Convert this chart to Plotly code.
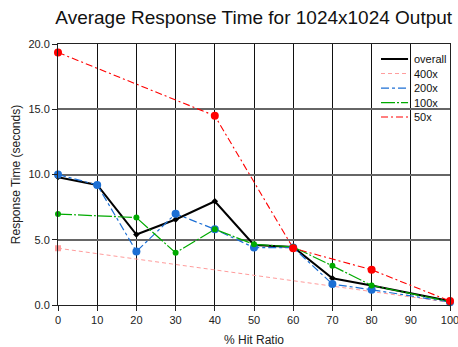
import plotly.graph_objects as go

title = "Average Response Time for 1024x1024 Output"
x_label = "% Hit Ratio"
y_label = "Response Time (seconds)"

overall_x = [0, 10, 20, 30, 40, 50, 60, 70, 80, 100]
overall_y = [9.8, 9.2, 5.4, 6.55, 7.95, 4.6, 4.45, 2.05, 1.5, 0.3]

x400 = [0, 100]
y400 = [4.35, 0.2]

x200 = [0, 10, 20, 30, 40, 50, 60, 70, 80, 100]
y200 = [10.0, 9.2, 4.1, 7.0, 5.8, 4.4, 4.4, 1.6, 1.17, 0.22]

x100 = [0, 20, 30, 40, 50, 60, 70, 80, 100]
y100 = [6.97, 6.7, 4.0, 5.8, 4.65, 4.45, 3.0, 1.5, 0.25]

x50 = [0, 40, 60, 80, 100]
y50 = [19.35, 14.5, 4.35, 2.7, 0.3]

series = [
    ("overall", overall_x, overall_y, "black", 2, "solid", 5, "diamond"),
    ("400x", x400, y400, "#ff9c9c", 1, "4px,3px", 6, "square"),
    ("200x", x200, y200, "#1c6fd4", 1.2, "8px,3px,3px,3px", 8, "circle"),
    ("100x", x100, y100, "#00aa00", 1.2, "14px,2px,2px,2px", 6, "circle"),
    ("50x", x50, y50, "#ff0000", 1.1, "7px,3px,2px,3px", 8, "circle"),
]

fig = go.Figure()
for name, xs, ys, color, w, dash, msize, sym in series:
    fig.add_trace(go.Scatter(x=xs, y=ys, name=name, mode="lines", showlegend=False,
                             line=dict(color=color, width=w, dash=dash), cliponaxis=False))
for name, xs, ys, color, w, dash, msize, sym in series:
    fig.add_trace(go.Scatter(x=xs, y=ys, name=name, mode="markers", showlegend=False,
                             marker=dict(color=color, size=msize, symbol=sym), cliponaxis=False))

# legend drawn in plot-domain (paper) coordinates
leg_x0, leg_x1, leg_tx = 0.824, 0.893, 0.903
leg_y0, leg_dy = 0.9425, 0.0556
for i, (name, xs, ys, color, w, dash, msize, sym) in enumerate(series):
    yy = leg_y0 - i * leg_dy
    fig.add_shape(type="line", xref="paper", yref="paper", x0=leg_x0, x1=leg_x1, y0=yy, y1=yy,
                  line=dict(color=color, width=w, dash=dash))
    fig.add_annotation(xref="paper", yref="paper", x=leg_tx, y=yy, text=name, showarrow=False,
                       xanchor="left", yanchor="middle", font=dict(size=11, color="#111"))

fig.update_layout(
    width=458, height=347,
    margin=dict(l=58, r=8, t=44, b=42),
    paper_bgcolor="white", plot_bgcolor="white",
    font=dict(family="Liberation Sans, Arial, sans-serif", size=11, color="#222"),
    title=dict(text=title, x=0.554, xanchor="center", y=0.951, yanchor="middle",
               font=dict(size=19, color="#111")),
    showlegend=False,
)
fig.update_xaxes(range=[0, 100], tickmode="array", tickvals=list(range(0, 101, 10)),
                 ticks="outside", ticklen=5, tickcolor="#222", showgrid=True, gridcolor="#111",
                 gridwidth=1, showline=True, linecolor="#222", mirror=True, zeroline=False,
                 automargin=False, ticklabeloverflow="allow",
                 title=dict(text=x_label, font=dict(size=12), standoff=12))
fig.update_yaxes(range=[0, 20], tickmode="array", tickvals=[0, 5, 10, 15, 20], tickformat=".1f",
                 ticks="outside", ticklen=5, tickcolor="#222", showgrid=True, gridcolor="#666",
                 gridwidth=1.5, showline=True, linecolor="#222", mirror=True, zeroline=False,
                 automargin=False, ticklabeloverflow="allow",
                 title=dict(text=y_label, font=dict(size=12), standoff=5))

fig.write_html("out.html")
